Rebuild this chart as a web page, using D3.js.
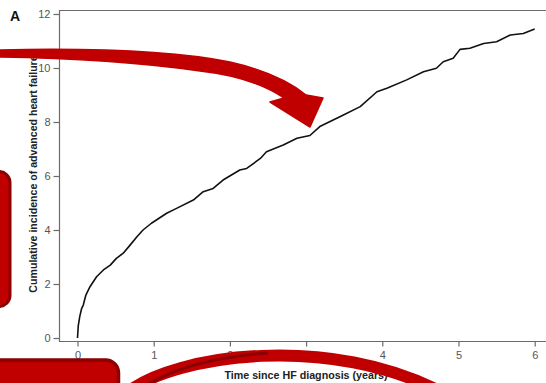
<!DOCTYPE html>
<html>
<head>
<meta charset="utf-8">
<script src="https://cdn.jsdelivr.net/npm/d3@7"></script>
<style>
  html, body { margin: 0; padding: 0; background: #fff; }
  svg { display: block; }
  text { font-family: "Liberation Sans", Arial, sans-serif; }
</style>
</head>
<body>
<div id="chart"></div>
<script>
// ---- data ----
const times = [0, 0.01, 0.03, 0.055, 0.076, 0.11, 0.164, 0.25, 0.34, 0.43, 0.51, 0.60, 0.69, 0.78, 0.86, 0.97,
  1.17, 1.30, 1.52, 1.65, 1.78, 1.91, 2.13, 2.22, 2.40, 2.48, 2.70, 2.88, 3.05, 3.18, 3.49, 3.71, 3.93,
  4.06, 4.32, 4.54, 4.71, 4.80, 4.93, 5.02, 5.15, 5.33, 5.50, 5.68, 5.85, 6.0];
const incidence = [0, 0.45, 0.8, 1.1, 1.22, 1.59, 1.9, 2.27, 2.52, 2.7, 2.95, 3.14, 3.44, 3.75, 4.0, 4.25,
  4.62, 4.8, 5.11, 5.42, 5.54, 5.85, 6.22, 6.28, 6.65, 6.9, 7.15, 7.4, 7.5, 7.83, 8.26, 8.57, 9.12,
  9.25, 9.56, 9.86, 9.99, 10.23, 10.36, 10.69, 10.73, 10.91, 10.97, 11.22, 11.28, 11.44];
const xTicks = [0, 1, 2, 3, 4, 5, 6];
const yTicks = [0, 2, 4, 6, 8, 10, 12];
const panelLabel = "A";
const xTitle = "Time since HF diagnosis (years)";
const yTitle = "Cumulative incidence of advanced heart failure";

const W = 546, H = 383;
const svg = d3.select("#chart").append("svg").attr("width", W).attr("height", H);

const x = d3.scaleLinear().domain([0, 6]).range([77.5, 534.7]);
const y = d3.scaleLinear().domain([0, 12]).range([338, 14]);

const axisColor = "#6b6b6b";
const boxLeft = 59.5, boxTop = 10.5, boxBottom = 341.5;

// plot box (right side falls outside the view)
svg.append("path")
  .attr("d", `M${W + 20},${boxTop} L${boxLeft},${boxTop} L${boxLeft},${boxBottom} L${W + 20},${boxBottom}`)
  .attr("fill", "none").attr("stroke", axisColor).attr("stroke-width", 1.2);

// y axis
const gy = svg.append("g").attr("transform", `translate(${boxLeft},0)`)
  .call(d3.axisLeft(y).tickValues(yTicks).tickSize(6).tickPadding(3).tickFormat(d3.format("d")));
gy.select(".domain").remove();
gy.selectAll("line").attr("stroke", axisColor).attr("stroke-width", 1.2);
gy.selectAll("text").attr("fill", "#555").style("font-size", "11px");

// x axis
const gx = svg.append("g").attr("transform", `translate(0,${boxBottom})`)
  .call(d3.axisBottom(x).tickValues(xTicks).tickSize(5).tickPadding(5).tickFormat(d3.format("d")));
gx.select(".domain").remove();
gx.selectAll("line").attr("stroke", axisColor).attr("stroke-width", 1.2);
gx.selectAll("text").attr("fill", "#555").style("font-size", "11px");

// curve
const pts = times.map((t, i) => [t, incidence[i]]);
svg.append("path")
  .datum(pts)
  .attr("d", d3.line().x(d => x(d[0])).y(d => y(d[1])).curve(d3.curveLinear))
  .attr("fill", "none").attr("stroke", "#111").attr("stroke-width", 1.6)
  .attr("stroke-linejoin", "round");

// titles
svg.append("text").text(panelLabel)
  .attr("x", 10).attr("y", 21).attr("font-weight", "bold").style("font-size", "14px").attr("fill", "#111");
svg.append("text").text(xTitle)
  .attr("x", 306).attr("y", 378.5).attr("text-anchor", "middle")
  .attr("font-weight", "bold").style("font-size", "10.7px").attr("fill", "#222");
svg.append("text").text(yTitle)
  .attr("transform", "translate(37,174) rotate(-90)").attr("text-anchor", "middle")
  .attr("font-weight", "bold").style("font-size", "10.6px").attr("fill", "#222");

// ---- decorative red overlays on top of the picture ----
const red = "#c00000", darkRed = "#8b0000";
const overlay = svg.append("g");

// big curved arrow pointing at the curve
overlay.append("path")
  .attr("d", "M -5 50 C 80 48, 170 50, 230 62 C 265 70, 290 82, 306 95 L 323 98 L 310 127 L 270 102 L 284 98 C 265 85, 235 75, 200 71 C 150 64, 80 58, -5 57 Z")
  .attr("fill", red).attr("stroke", red).attr("stroke-width", 1.5).attr("stroke-linejoin", "round");

// left rounded box
overlay.append("rect")
  .attr("x", -40).attr("y", 171.5).attr("width", 50).attr("height", 135).attr("rx", 11)
  .attr("fill", red).attr("stroke", darkRed).attr("stroke-width", 3);

// bottom-left rounded box
overlay.append("rect")
  .attr("x", -30).attr("y", 360).attr("width", 148.5).attr("height", 60).attr("rx", 13)
  .attr("fill", red).attr("stroke", darkRed).attr("stroke-width", 3.5);

// bottom arc band
overlay.append("path")
  .attr("d", "M 128 392 C 175 355, 330 332, 445 394")
  .attr("fill", "none").attr("stroke", red).attr("stroke-width", 12);
overlay.append("path")
  .attr("d", "M 140 390 C 170 368, 215 357, 268 353")
  .attr("fill", "none").attr("stroke", darkRed).attr("stroke-width", 3);
</script>
</body>
</html>
